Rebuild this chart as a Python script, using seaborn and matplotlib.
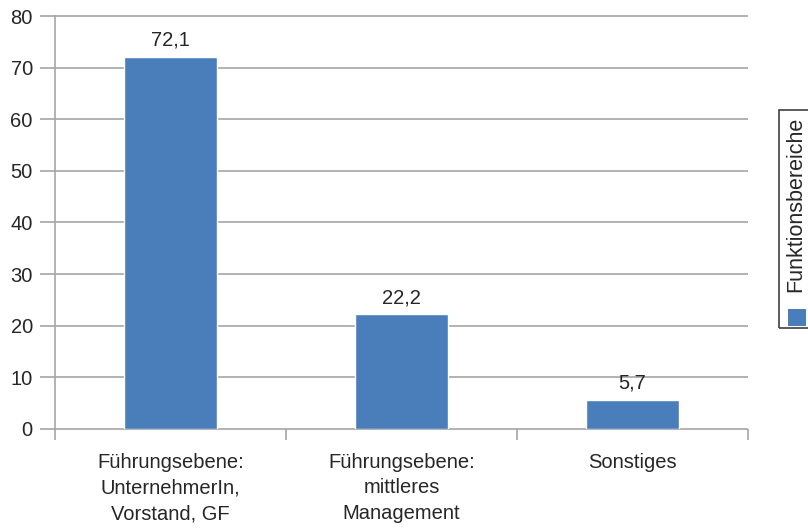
import matplotlib
matplotlib.use("Agg")
import matplotlib.pyplot as plt
import seaborn as sns
import pandas as pd
from matplotlib.patches import Rectangle

categories = ["Führungsebene:\nUnternehmerIn,\nVorstand, GF",
              "Führungsebene:\nmittleres\nManagement",
              "Sonstiges"]
values = [72.1, 22.2, 5.7]
series_name = "Funktionsbereiche"
yticks = [0, 10, 20, 30, 40, 50, 60, 70, 80]

bar_color = "#4A7EBB"
grid_color = "#A6A6A6"
text_color = "#262626"
fs = 14.5

sns.set_theme(style="white")
plt.rcParams["font.family"] = ["Liberation Sans", "DejaVu Sans"]

df = pd.DataFrame({"Kategorie": categories, "Wert": values})

W, H = 808, 530
fig = plt.figure(figsize=(W / 100, H / 100), dpi=100)
ax = fig.add_axes([55 / W, 1 - 429 / H, (748 - 55) / W, (429 - 16) / H])

sns.barplot(data=df, x="Kategorie", y="Wert", color=bar_color,
            width=0.4, saturation=1, ax=ax, zorder=3)

ax.set_ylim(0, 80)
ax.set_xlim(-0.5, 2.5)
ax.set_yticks(yticks)
ax.set_yticklabels([str(t) for t in yticks], fontsize=fs, color=text_color)
ax.set_xlabel("")
ax.set_ylabel("")
ax.set_xticks([])

# horizontal grid lines extending left of the axis as tick marks
for t in yticks:
    ax.plot([-0.565, 2.5], [t, t], color=grid_color, lw=1.2, zorder=1,
            clip_on=False, solid_capstyle="butt")
ax.tick_params(axis="y", length=0, pad=16)

for s in ["top", "right", "bottom"]:
    ax.spines[s].set_visible(False)
ax.spines["left"].set_color(grid_color)
ax.spines["left"].set_linewidth(1.2)

# category separators below the baseline
for xb in [-0.5, 0.5, 1.5, 2.5]:
    ax.plot([xb, xb], [0, -2.2], color=grid_color, lw=1.2, clip_on=False,
            solid_capstyle="butt")

for i, lab in enumerate(categories):
    ax.text(i, -4.6, lab, ha="center", va="top", fontsize=fs,
            color=text_color, linespacing=1.45)

labels = [f"{v:.1f}".replace(".", ",") for v in values]
ax.bar_label(ax.containers[0], labels=labels, padding=5, fontsize=fs,
             color=text_color)

# legend box at the right edge, rotated
fig.patches.append(Rectangle((779 / W, 1 - 328 / H), 40 / W, 218 / H,
                             transform=fig.transFigure, fill=False,
                             edgecolor="#404040", lw=1.2))
fig.patches.append(Rectangle((788 / W, 1 - 326 / H), 18 / W, 17 / H,
                             transform=fig.transFigure, facecolor=bar_color,
                             edgecolor="none"))
fig.text(796 / W, 1 - 292 / H, series_name, rotation=90, ha="center",
         va="bottom", fontsize=15.5, color=text_color)

fig.savefig("out.png", dpi=100)
